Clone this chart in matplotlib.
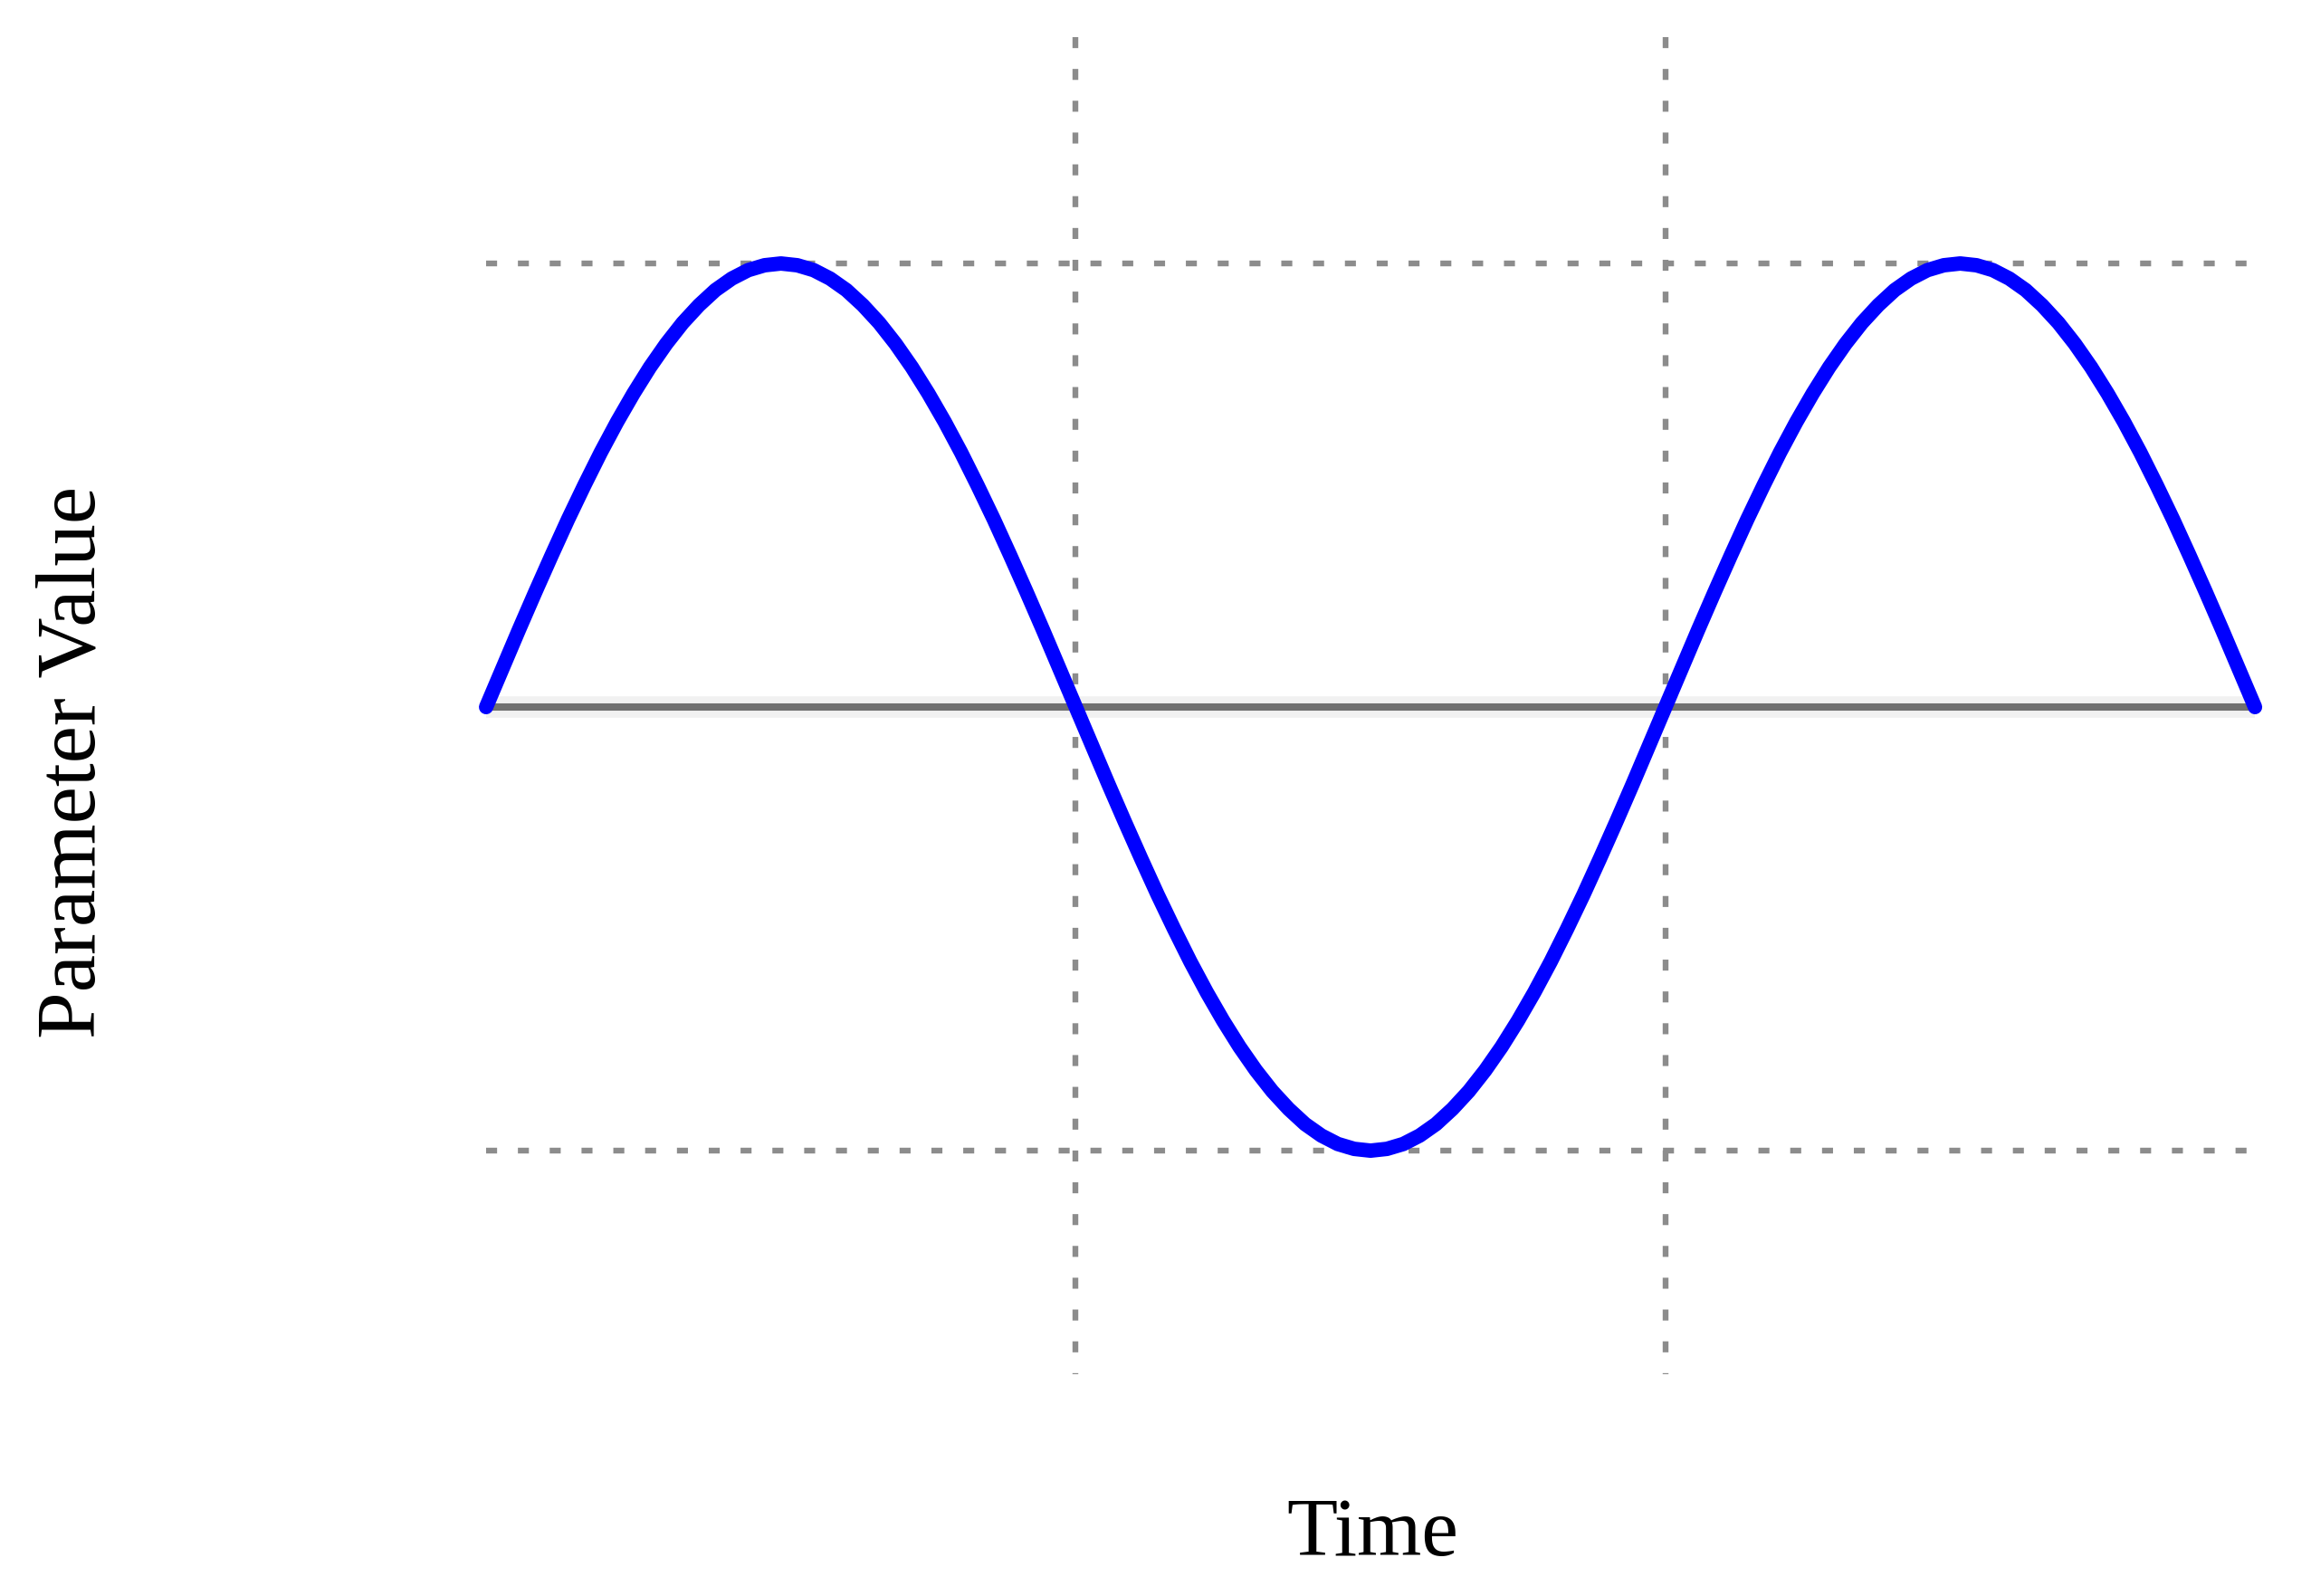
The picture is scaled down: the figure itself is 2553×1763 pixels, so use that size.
import matplotlib
matplotlib.use('Agg')
import matplotlib.pyplot as plt
from matplotlib import rcParams

rcParams['font.family'] = ['Liberation Serif', 'DejaVu Serif']

# phase samples (degrees, every 5) and the parameter value
time = list(range(0, 545, 5))
value = [0.000, 0.087, 0.174, 0.259, 0.342, 0.423, 0.500, 0.574, 0.643,
         0.707, 0.766, 0.819, 0.866, 0.906, 0.940, 0.966, 0.985, 0.996,
         1.000, 0.996, 0.985, 0.966, 0.940, 0.906, 0.866, 0.819, 0.766,
         0.707, 0.643, 0.574, 0.500, 0.423, 0.342, 0.259, 0.174, 0.087,
         0.000, -0.087, -0.174, -0.259, -0.342, -0.423, -0.500, -0.574, -0.643,
         -0.707, -0.766, -0.819, -0.866, -0.906, -0.940, -0.966, -0.985, -0.996,
         -1.000, -0.996, -0.985, -0.966, -0.940, -0.906, -0.866, -0.819, -0.766,
         -0.707, -0.643, -0.574, -0.500, -0.423, -0.342, -0.259, -0.174, -0.087,
         0.000, 0.087, 0.174, 0.259, 0.342, 0.423, 0.500, 0.574, 0.643,
         0.707, 0.766, 0.819, 0.866, 0.906, 0.940, 0.966, 0.985, 0.996,
         1.000, 0.996, 0.985, 0.966, 0.940, 0.906, 0.866, 0.819, 0.766,
         0.707, 0.643, 0.574, 0.500, 0.423, 0.342, 0.259, 0.174, 0.087,
         0.000]

# reference guides
t_start, t_end = 0, 542
half_periods = [180, 360]
peak_levels = [1.0, -1.0]
vline_span = [1.51, -1.505]

fig = plt.figure(figsize=(25.53, 17.63), dpi=100, facecolor='white')
ax = fig.add_axes([0, 0, 1, 1])
ax.set_xlim(-148.4, 557.1)
ax.set_ylim(-2.004, 1.594)
ax.axis('off')

dots = (0, (1.9, 3.6))
for lvl in peak_levels:
    ax.plot([t_start, t_end], [lvl, lvl], color='#8c8c8c', lw=4.6, linestyle=dots, zorder=1)
for t in half_periods:
    ax.plot([t, t], vline_span, color='#8c8c8c', lw=4.6, linestyle=dots, zorder=1)

# zero line with light halo
ax.plot([0, 540], [0, 0], color='#f1f1f1', lw=17, solid_capstyle='butt', zorder=2)
ax.plot([0, 540], [0, 0], color='#707070', lw=5.8, solid_capstyle='butt', zorder=3)

ax.plot(time, value, color='#0000ff', lw=11.5, solid_capstyle='round', zorder=4)

fig.text(0.5938, 0.0255, 'Time', fontsize=66, ha='center', va='baseline')
fig.text(0.0321, 0.5224, 'Parameter Value', fontsize=67, rotation=90,
         ha='center', va='center')

fig.savefig('out.png', dpi=100, facecolor='white')
